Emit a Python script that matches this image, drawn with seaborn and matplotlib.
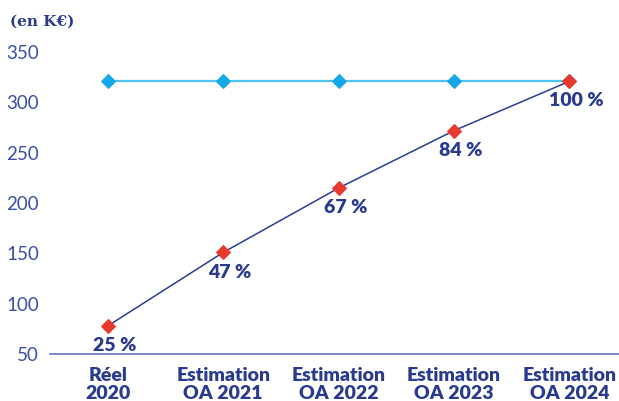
import pandas as pd
import matplotlib.pyplot as plt
import seaborn as sns

# données
categories = ['Réel\n2020', 'Estimation\nOA 2021', 'Estimation\nOA 2022',
              'Estimation\nOA 2023', 'Estimation\nOA 2024']
objectif = [321, 321, 321, 321, 321]
realise = [78, 151, 215, 272, 321]
pourcentages = ['25 %', '47 %', '67 %', '84 %', '100 %']
y_ticks = [50, 100, 150, 200, 250, 300, 350]

navy = '#2b3d94'
texte = '#2a3b8f'

sns.set_theme(style='white')
plt.rcParams['font.family'] = ['Lato', 'DejaVu Sans']

df = pd.DataFrame({'x': range(len(categories)), 'objectif': objectif, 'realise': realise})

fig = plt.figure(figsize=(6.19, 4.01), dpi=100)
ax = fig.add_axes([0.081, 0.117, 0.919, 0.753])

sns.lineplot(data=df, x='x', y='objectif', ax=ax, color='#4cc3f0', linewidth=1.6,
             marker='D', markersize=7, markerfacecolor='#15a8e6', markeredgecolor='#15a8e6')
sns.lineplot(data=df, x='x', y='realise', ax=ax, color=navy, linewidth=1.1,
             marker='D', markersize=7, markerfacecolor='#e83a2c', markeredgecolor='#e83a2c')

# étiquettes de pourcentage
for i, (v, lab) in enumerate(zip(realise, pourcentages)):
    ax.annotate(lab, (i, v), xytext=(5, -8), textcoords='offset points',
                ha='center', va='top', fontsize=14, fontweight='heavy', color=texte)

ax.set_xlim(-0.5, 4.43)
ax.set_ylim(50, 350)
ax.set_yticks(y_ticks)
ax.set_xticks(range(len(categories)))
ax.set_xticklabels(categories, fontsize=14, fontweight='heavy', color=texte, linespacing=1.1)
ax.tick_params(axis='y', labelsize=13.5, colors='#3a4fa8', length=0, pad=8)
ax.tick_params(axis='x', length=0, pad=9)
ax.set_xlabel('')
ax.set_ylabel('')

for s in ['top', 'right', 'left']:
    ax.spines[s].set_visible(False)
ax.spines['bottom'].set_color('#6275c4')
ax.spines['bottom'].set_linewidth(1.2)

fig.text(0.016, 0.945, '(en K€)', fontsize=11, fontweight='bold', color=texte,
         family=['DejaVu Serif'], va='center', ha='left')

fig.savefig('out.png', dpi=100)
